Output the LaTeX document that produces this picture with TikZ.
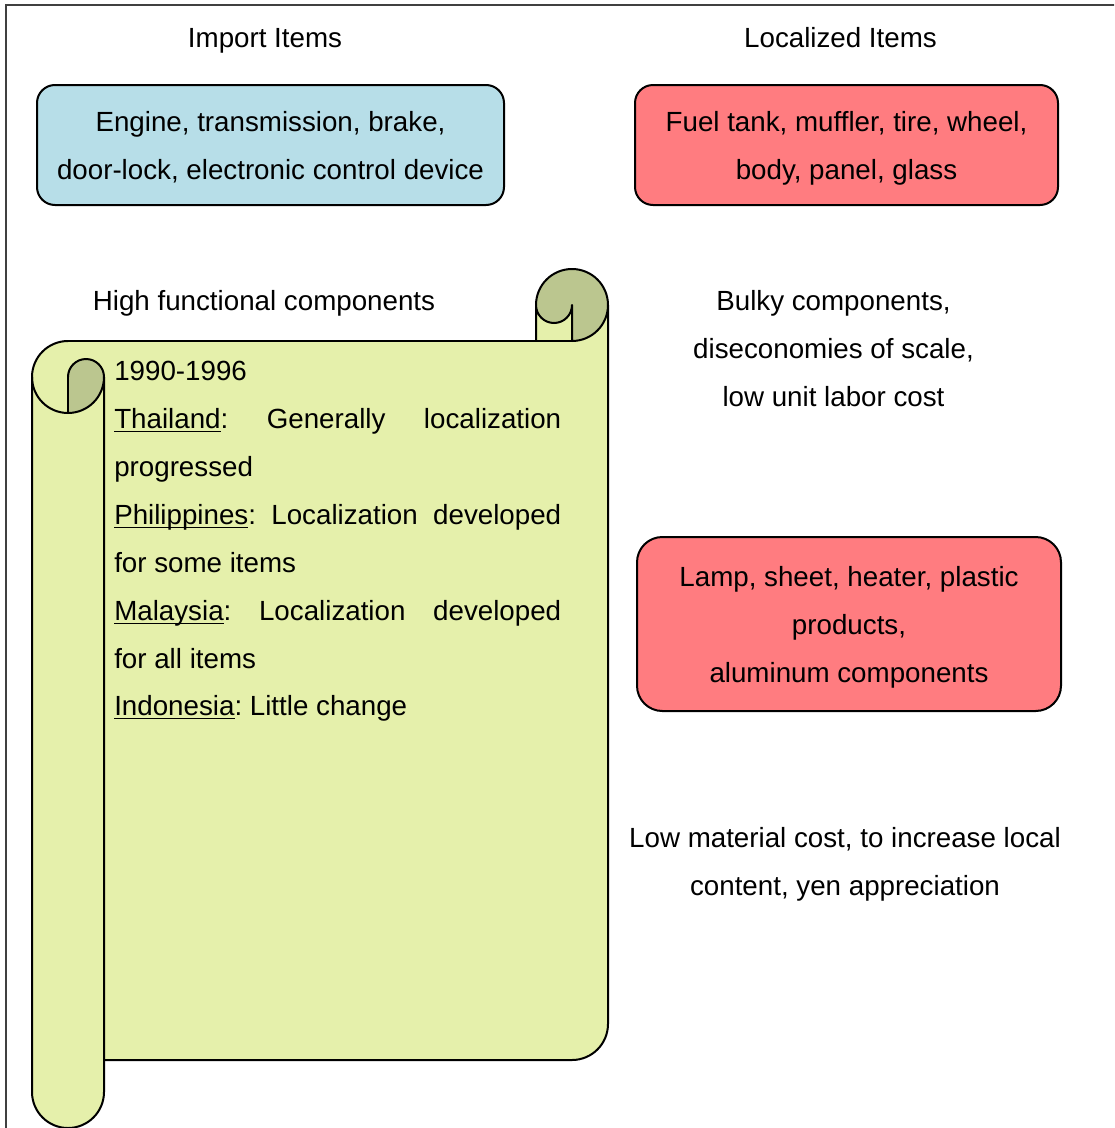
\documentclass[tikz,border=0pt]{standalone}
\usepackage{fontspec}
\setmainfont{Liberation Sans}
\frenchspacing
\definecolor{aquafill}{HTML}{B7DEE8}
\definecolor{redfill}{HTML}{FF7C80}
\definecolor{scrolllight}{HTML}{E5F0AB}
\definecolor{scrolldark}{HTML}{BBC68F}
\definecolor{framecol}{HTML}{404040}
\newcommand\myul[1]{\setbox0\hbox{#1}\rlap{\rule[-2.6pt]{\wd0}{1.1pt}}#1}
\begin{document}
\begin{tikzpicture}[x=0.75pt,y=0.75pt,
  txt/.style={font=\fontsize{20.8pt}{36pt}\selectfont\frenchspacing, inner sep=0pt, anchor=base},
  sline/.style={txt, anchor=base west},
  itembox/.style={draw, line width=1.5pt, inner sep=0pt},
  edge/.style={line width=1.5pt, line join=round}]
\useasboundingbox (0,0) rectangle (1114,-1128);
\clip (0,0) rectangle (1114,-1128);
% frame
\draw[framecol, line width=1.6pt] (6,-1140) -- (6,-5) -- (1130,-5);
% headings
\node[txt] (imp) at (265,-47.5) {Import Items};
\node[txt] (loc) at (840.5,-47.5) {Localized Items};
% boxes
\node[itembox, fill=aquafill, rounded corners=13.5pt, minimum width=350.25pt, minimum height=90pt] (bbox) at (270.5,-145) {};
\node[txt] (b1) at (270.5,-131.5) {Engine, transmission, brake,};
\node[txt] (b2) at (270.5,-179.5) {door-lock, electronic control device};
\node[itembox, fill=redfill, rounded corners=13.5pt, minimum width=317.25pt, minimum height=90pt] (rbox1) at (846.5,-145) {};
\node[txt] (r1) at (846.5,-131.5) {Fuel tank, muffler, tire, wheel,};
\node[txt] (r2) at (846.5,-179.5) {body, panel, glass};
\node[itembox, fill=redfill, rounded corners=19pt, minimum width=318pt, minimum height=130.5pt] (rbox2) at (849,-624) {};
\node[txt] (s1) at (849,-586.5) {Lamp, sheet, heater, plastic};
\node[txt] (s2) at (849,-634.5) {products,};
\node[txt] (s3) at (849,-682.5) {aluminum components};
% right side texts
\node[txt] (k1) at (833.5,-310.5) {Bulky components,};
\node[txt] (k2) at (833.5,-358.5) {diseconomies of scale,};
\node[txt] (k3) at (833.5,-406.5) {low unit labor cost};
\node[txt] (m1) at (845,-847.5) {Low material cost, to increase local};
\node[txt] (m2) at (845,-895.5) {content, yen appreciation};
\node[txt] (hf) at (264,-310.5) {High functional components};
% scroll: light fills
\fill[scrolllight] (68,-341) -- (608,-341) -- (608,-1024) arc (0:-90:36) -- (68,-1060) -- cycle;
\fill[scrolllight] (536,-305) rectangle (608,-341);
\fill[scrolllight] (32,-377) -- (32,-1092) arc (180:360:36) -- (104,-377) -- cycle;
\fill[scrolllight] (68,-377) circle (36);
% dark curls
\fill[scrolldark] (536,-305) arc (180:0:36) arc (0:-90:36) -- (572,-305) arc (0:-180:18) -- cycle;
\fill[scrolldark] (68,-377) arc (180:0:18) arc (0:-90:36) -- cycle;
% strokes
\draw[edge] (68,-341) -- (572,-341);
\draw[edge] (608,-305) -- (608,-1024) arc (0:-90:36) -- (104,-1060);
\draw[edge] (536,-341) -- (536,-305) arc (180:0:36) arc (0:-90:36) -- (572,-305) arc (0:-180:18);
\draw[edge] (68,-341) arc (90:360:36);
\draw[edge] (68,-377) arc (180:0:18);
\draw[edge] (68,-377) -- (68,-413);
\draw[edge] (104,-377) -- (104,-1092) arc (0:-180:36) -- (32,-377);
% scroll text
\node[sline] (y0) at (114,-380.5) {1990-1996};
\node[sline] (y1) at (114,-428.5) {\hbox to 335.25pt{\myul{Thailand}: Generally localization}};
\node[sline] (y2) at (114,-476.5) {progressed};
\node[sline] (y3) at (114,-524.5) {\hbox to 335.25pt{\myul{Philippines}: Localization developed}};
\node[sline] (y4) at (114,-572.5) {for some items};
\node[sline] (y5) at (114,-620.5) {\hbox to 335.25pt{\myul{Malaysia}: Localization developed}};
\node[sline] (y6) at (114,-668.5) {for all items};
\node[sline] (y7) at (114,-715.5) {\myul{Indonesia}: Little change};
\end{tikzpicture}
\end{document}
